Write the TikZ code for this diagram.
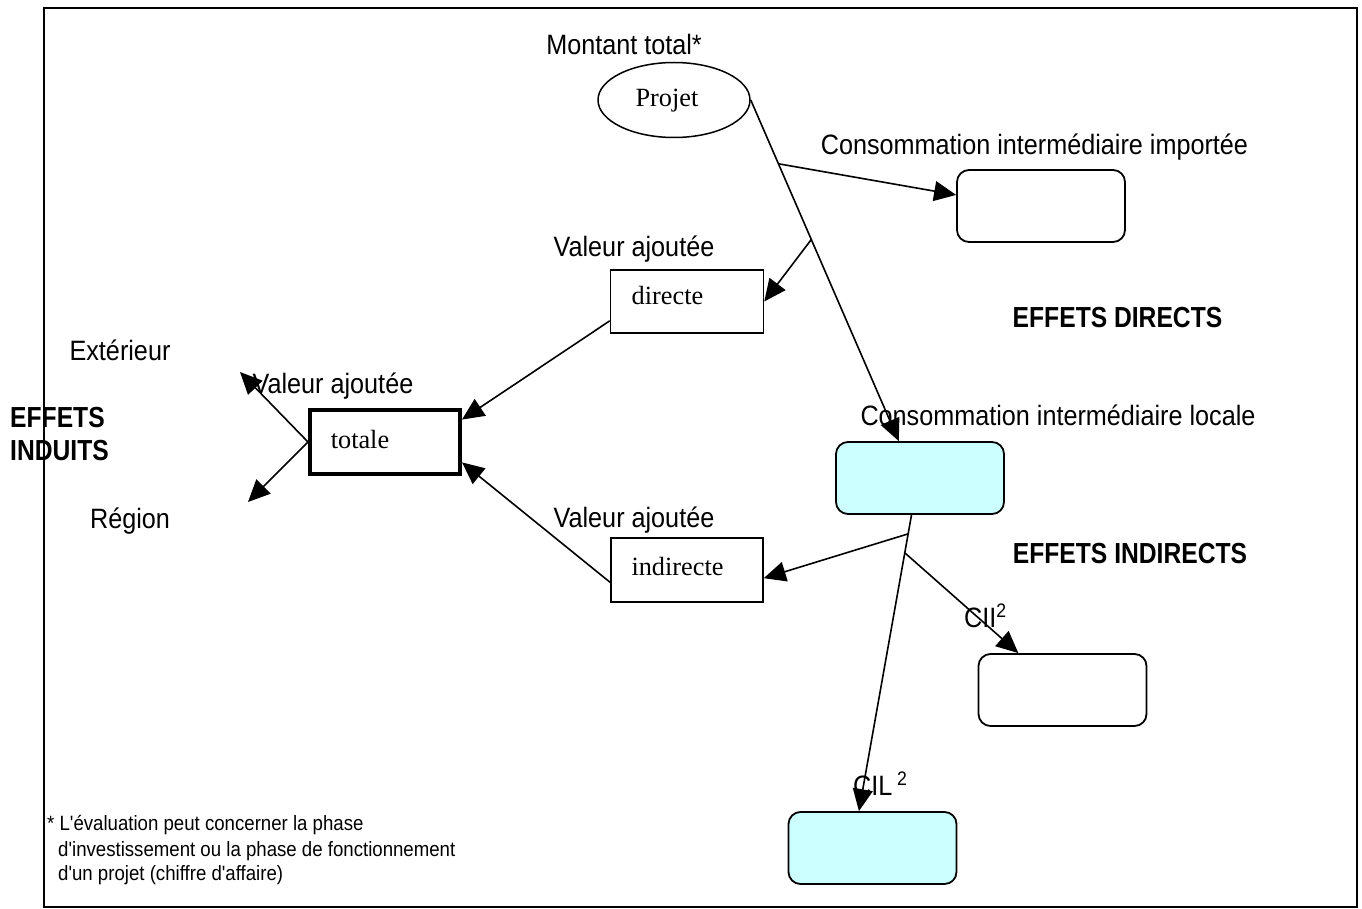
\documentclass[tikz,border=0pt]{standalone}
\usepackage{fontspec}
\usetikzlibrary{arrows.meta,shapes.geometric,calc}
\newfontfamily\narf{Liberation Sans}[FakeStretch=0.9]
\newfontfamily\narb{Liberation Sans Bold}[FakeStretch=0.85]
\newfontfamily\serf{Liberation Serif}
\tikzset{
  lab/.style={inner sep=0pt, font=\narf\fontsize{28}{30}\selectfont},
  blab/.style={inner sep=0pt, font=\narb\fontsize{29}{31}\selectfont},
  foot/.style={inner sep=0pt, font=\narf\fontsize{20.7}{22}\selectfont},
  stxt/.style={inner sep=0pt, font=\serf\fontsize{26.3}{28}\selectfont},
  sqbox/.style={draw, line width=1.5pt, inner sep=0pt},
  rbox/.style={draw, line width=1.8pt, rounded corners=12pt, inner sep=0pt, minimum width=168pt, minimum height=72pt},
  arr/.style={line width=1.6pt, -{Triangle[length=22pt,width=20pt]}},
}
\definecolor{lcyan}{HTML}{CCFFFF}
\begin{document}
\begin{tikzpicture}[x=1pt,y=-1pt]
\useasboundingbox (0,0) rectangle (1362,909);
% frame
\draw[line width=2pt] (44,8) rectangle (1357,907);

% shapes
\node[ellipse, draw, line width=1.5pt, minimum width=152pt, minimum height=75pt, inner sep=0pt] (proj) at (674,100) {};
\node[rbox] (imp) at (1041,206) {};
\node[sqbox, minimum width=153pt, minimum height=63pt] (dir) at (687,301.5) {};
\node[sqbox, line width=4pt, minimum width=150pt, minimum height=64pt] (tot) at (385,442) {};
\node[sqbox, minimum width=152pt, minimum height=64pt] (ind) at (687,570) {};
\node[rbox, fill=lcyan] (loc) at (920,478) {};
\node[rbox] (cii) at (1062.5,690) {};
\node[rbox, fill=lcyan] (cil) at (872.5,848) {};

% texts in shapes
\node[stxt, anchor=base] (projT) at (667,107) {Projet};
\node[stxt, anchor=base] (dirT) at (667.5,305) {directe};
\node[stxt, anchor=base] (totT) at (360,448) {totale};
\node[stxt, anchor=base] (indT) at (677.5,575) {indirecte};

% labels
\node[lab, anchor=base] (l1) at (624,55) {Montant total*};
\node[lab, anchor=base] (l2) at (1034.5,155) {Consommation intermédiaire importée};
\node[lab, anchor=base] (l3) at (634,257) {Valeur ajoutée};
\node[lab, anchor=base] (l4) at (120,360) {Extérieur};
\node[lab, anchor=base] (l5) at (333,393) {Valeur ajoutée};
\node[lab, anchor=base] (l6) at (130,528) {Région};
\node[lab, anchor=base] (l7) at (1058,425) {Consommation intermédiaire locale};
\node[lab, anchor=base] (l8) at (634,527) {Valeur ajoutée};
\node[lab, anchor=base west] (l9) at (964,627) {CII\textsuperscript{2}};
\node[lab, anchor=base west] (l10) at (853,795) {CIL\,\textsuperscript{2}};
\node[blab, anchor=base] (e1) at (1117.5,327) {EFFETS DIRECTS};
\node[blab, anchor=base] (e2) at (1130,563) {EFFETS INDIRECTS};
\node[blab, anchor=base west] (e3) at (10,427) {EFFETS};
\node[blab, anchor=base west] (e4) at (10,460) {INDUITS};
\node[foot, anchor=base west] (f1) at (47,830) {* L'évaluation peut concerner la phase};
\node[foot, anchor=base west] (f2) at (58,856) {d'investissement ou la phase de fonctionnement};
\node[foot, anchor=base west] (f3) at (58,880) {d'un projet (chiffre d'affaire)};

% connector points
\coordinate (locIn) at ($(loc.north west)!0.375!(loc.north east)$);
\coordinate (b1) at ($(proj.east)!0.187!(locIn)$);
\coordinate (b2) at ($(proj.east)!0.409!(locIn)$);
\coordinate (impIn) at ($(imp.north west)!0.35!(imp.south west)$);
\coordinate (dirOut) at ($(dir.north west)!0.8!(dir.south west)$);
\coordinate (totIn1) at ($(tot.north east)!0.17!(tot.south east)$);
\coordinate (totIn2) at ($(tot.north east)!0.8!(tot.south east)$);
\coordinate (indOut) at ($(ind.north west)!0.69!(ind.south west)$);
\coordinate (locOut) at ($(loc.south west)!0.45!(loc.south east)$);
\coordinate (cilIn) at ($(cil.north west)!0.42!(cil.north east)$);
\coordinate (b3) at ($(locOut)!0.064!(cilIn)$);
\coordinate (b4) at ($(locOut)!0.128!(cilIn)$);
\coordinate (indIn) at ($(ind.north east)!0.625!(ind.south east)$);
\coordinate (ciiIn) at ($(cii.north west)!0.24!(cii.north east)$);
\coordinate (extpt) at (240,372);
\coordinate (regpt) at (248,502);

% connectors
\draw[arr] (proj.east) -- (locIn);
\draw[arr] (b1) -- (impIn);
\draw[arr] (b2) -- (dir.east);
\draw[arr] (dirOut) -- (totIn1);
\draw[arr] (indOut) -- (totIn2);
\draw[arr] (tot.west) -- (extpt);
\draw[arr] (tot.west) -- (regpt);
\draw[arr] (locOut) -- (cilIn);
\draw[arr] (b3) -- (indIn);
\draw[arr] (b4) -- (ciiIn);
\end{tikzpicture}
\end{document}
